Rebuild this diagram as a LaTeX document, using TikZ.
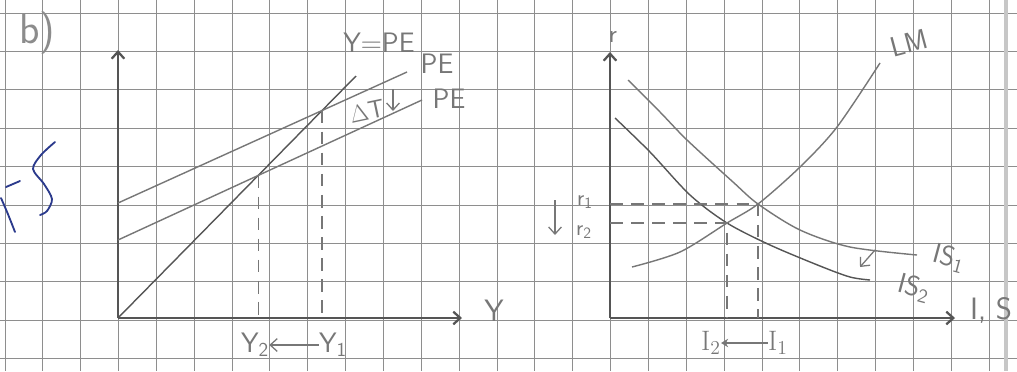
\documentclass[tikz,border=0pt]{standalone}
\usepackage{xcolor}
\usetikzlibrary{arrows.meta,intersections}
\definecolor{pencil}{HTML}{555555}
\definecolor{pencillight}{HTML}{777777}
\definecolor{gridgray}{HTML}{8E8E8E}
\definecolor{inkblue}{HTML}{2B3A8C}

\begin{document}
\begin{tikzpicture}[
  x=0.025cm, y=-0.025cm,
  >={Straight Barb[length=5pt,width=9pt]},
  gridline/.style={draw=gridgray, line width=0.7pt},
  axis/.style={->, draw=pencil, line width=1.6pt},
  curve/.style={draw=pencillight, line width=1.0pt},
  guide/.style={draw=pencillight, line width=0.9pt, dash pattern=on 9pt off 6pt},
  ink/.style={draw=inkblue, line width=1.3pt, line cap=round},
  lbl/.style={text=pencillight, font=\sffamily\fontsize{#1}{#1}\selectfont, inner sep=0pt},
  lbl/.default=20,
  hint/.style={->, draw=pencillight, line width=0.9pt},
]
% ---- paper ----
\fill[white] (0,0) rectangle (1017,371);
\useasboundingbox (0,0) rectangle (1017,371);
\foreach \i in {0,...,26} \draw[gridline] ({5+37.85*\i},0) -- ({5+37.85*\i},371);
\foreach \j in {0,...,9} \draw[gridline] (0,{13+38.4*\j}) -- (1017,{13+38.4*\j});
\draw[draw=black!22, line width=3pt] (1006,0) -- (1006,371);

% ---- margin notes ----
\node[lbl=30, text=black!45] (part) at (37,33) {b)};
\draw[ink] plot[smooth] coordinates {(55,142) (41,155) (33,169) (44,184) (52,199) (47,211) (40,215)};
\draw[ink] (1,198) .. controls (8,214) .. (15,232);
\draw[ink] (6,187) -- (20,181);

% ---- left: Keynesian cross ----
\coordinate (O1) at (118,318);
\coordinate (ytop1) at (118,50);
\coordinate (xend1) at (462,318);
\draw[axis] (O1) -- (ytop1);
\draw[axis] (O1) -- (xend1);
\coordinate (ypeEnd) at (356,76);
\coordinate (peA) at (118,203);
\coordinate (peAEnd) at (407,72);
\coordinate (peB) at (118,240);
\coordinate (peBEnd) at (422,100);
\draw[curve, draw=pencil, name path=ype] (O1) -- (ypeEnd);
\draw[curve, name path=peone] (peA) -- (peAEnd);
\draw[curve, name path=petwo] (peB) -- (peBEnd);
\path[name intersections={of=ype and peone, by=E1}];
\path[name intersections={of=ype and petwo, by=E2}];
\draw[guide] (E1) -- (E1 |- O1);
\draw[guide] (E2) -- (E2 |- O1);

\node[lbl] (ypeLbl) at (379,43) {Y$=$PE};
\node[lbl] (peALbl) at (437,64) {PE};
\node[lbl] (peBLbl) at (449,99) {PE};
\node[lbl=18, rotate=12] (dT) at (367,111) {$\Delta$T};
\coordinate (dTtop) at (393,89);
\coordinate (dTbot) at (393,111);
\draw[hint] (dTtop) -- (dTbot);
\node[lbl=22] (ylbl) at (494,311) {Y};
\node[lbl] (y2) at (255,345) {Y\textsubscript{2}};
\node[lbl] (y1) at (333,345) {Y\textsubscript{1}};
\draw[hint] (y1.west) -- (y2.east);

% ---- right: IS-LM ----
\coordinate (O2) at (610,318);
\coordinate (ytop2) at (610,52);
\coordinate (xend2) at (955,318);
\draw[axis] (O2) -- (ytop2);
\draw[axis] (O2) -- (xend2);
\draw[curve, name path=lm] plot[smooth] coordinates {(632,267) (680,252) (727,223) (758,204) (800,167) (837,127) (880,63)};
\draw[curve, name path=isone] plot[smooth] coordinates {(628,80) (660,112) (687,140) (733,182) (758,204) (800,230) (850,247) (917,255)};
\draw[curve, draw=pencil, name path=istwo] plot[smooth] coordinates {(615,118) (650,152) (690,195) (727,223) (770,245) (820,266) (850,277) (870,280)};
\path[name intersections={of=lm and isone, by=F1}];
\path[name intersections={of=lm and istwo, by=F2}];
\draw[guide] (O2 |- F1) -- (F1) -- (F1 |- O2);
\draw[guide] (O2 |- F2) -- (F2) -- (F2 |- O2);

\node[lbl=18] (rlbl) at (613,37) {r};
\node[lbl=16] (r1) at (585,202) {r\textsubscript{1}};
\node[lbl=16] (r2) at (584,232) {r\textsubscript{2}};
\coordinate (rtop) at (555,200);
\coordinate (rbot) at (555,235);
\draw[hint] (rtop) -- (rbot);
\node[lbl, rotate=15] (lmLbl) at (909,43) {LM};
\node[lbl, rotate=-15] (is1) at (949,258) {IS\textsubscript{1}};
\node[lbl, rotate=-15] (is2) at (914,288) {IS\textsubscript{2}};
\coordinate (isFrom) at (875,250);
\coordinate (isTo) at (860,267);
\draw[hint] (isFrom) -- (isTo);
\node[lbl=22] (islbl) at (991,310) {I, S};
\node[lbl, font=\rmfamily\fontsize{20}{20}\selectfont] (i2) at (711,343) {I\textsubscript{2}};
\node[lbl, font=\rmfamily\fontsize{20}{20}\selectfont] (i1) at (778,343) {I\textsubscript{1}};
\draw[hint, >={Stealth[length=5pt,width=6pt]}] (i1.west) -- (i2.east);
\end{tikzpicture}
\end{document}
